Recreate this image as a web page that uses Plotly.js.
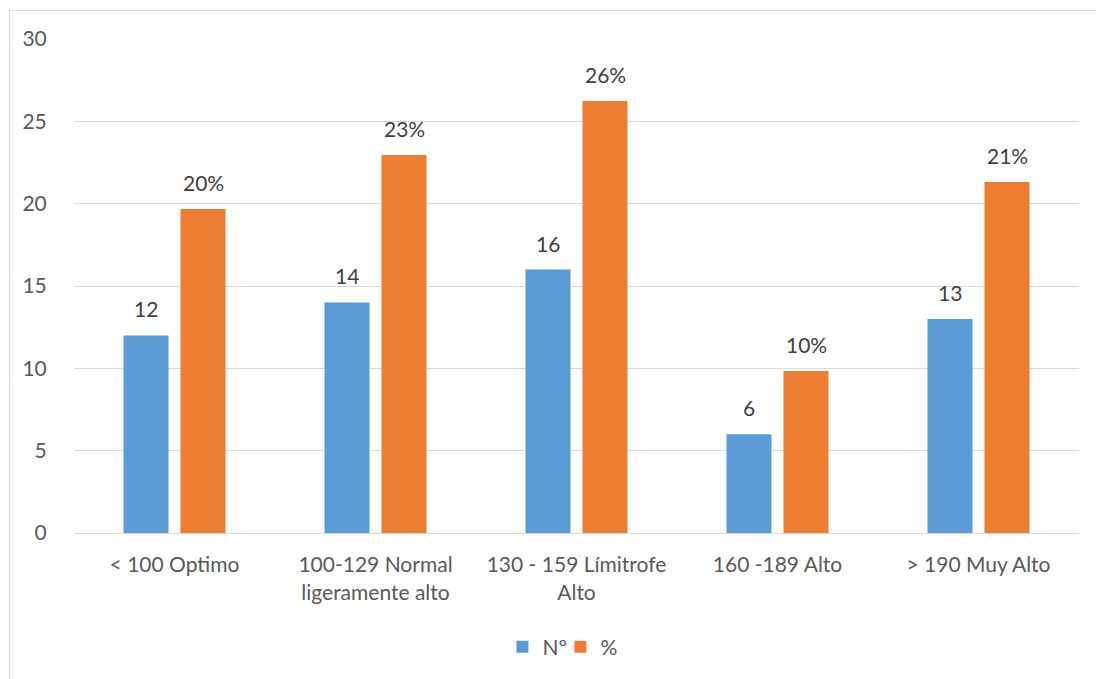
<!DOCTYPE html>
<html>
<head>
<meta charset="utf-8">
<script src="https://cdn.plot.ly/plotly-3.0.1.min.js"></script>
<style>
  html, body { margin: 0; padding: 0; background: #ffffff; overflow: hidden; }
  #frame { position: absolute; left: 9px; top: 10px; width: 1100px; height: 700px; border: 1px solid #d9d9d9; box-sizing: border-box; pointer-events: none; }
  #chart { position: absolute; left: 0; top: 0; width: 1096px; height: 679px; }
</style>
</head>
<body>
<div id="chart"></div>
<div id="frame"></div>
<script>
const categories = ["< 100 Optimo", "100-129 Normal<br>ligeramente alto", "130 - 159 Límitrofe<br>Alto", "160 -189 Alto", "> 190 Muy Alto"];
const countValues = [12, 14, 16, 6, 13];
const pctValues = [19.67, 22.95, 26.23, 9.84, 21.31];
const yTicks = [0, 5, 10, 15, 20, 25, 30];

const FONT = "Lato, 'Open Sans', sans-serif";
const labelFont = { family: FONT, size: 21, color: "#404040" };

const traces = [
  { type: "bar", name: "Nº", x: categories, y: countValues, marker: { color: "#5B9BD5" } },
  { type: "bar", name: "%", x: categories, y: pctValues, marker: { color: "#ED7D31" } }
];

const annotations = [];
categories.forEach((c, i) => {
  annotations.push({ x: c, y: countValues[i], xref: "x", yref: "y", text: String(countValues[i]),
    showarrow: false, xshift: -28.5, yshift: 12, yanchor: "bottom", font: labelFont });
  annotations.push({ x: c, y: pctValues[i], xref: "x", yref: "y", text: Math.round(pctValues[i]) + "%",
    showarrow: false, xshift: 28.5, yshift: 12, yanchor: "bottom", font: labelFont });
});

const layout = {
  width: 1096, height: 679,
  margin: { l: 74, r: 17, t: 39, b: 146 },
  paper_bgcolor: "rgba(0,0,0,0)", plot_bgcolor: "#ffffff",
  font: { family: FONT, size: 21, color: "#595959" },
  barmode: "group", bargap: 0.433, bargroupgap: 0.21,
  showlegend: true,
  legend: { orientation: "h", x: 0.484, xanchor: "center", y: -0.231, yanchor: "middle",
    font: { size: 21, color: "#595959" }, traceorder: "normal", itemwidth: 30, entrywidth: 13, entrywidthmode: "pixels" },
  annotations: annotations,
  xaxis: {
    showgrid: false, zeroline: false, showline: true, linecolor: "#d9d9d9", linewidth: 1,
    ticks: "outside", ticklen: 13, tickcolor: "rgba(0,0,0,0)", tickfont: { size: 21, color: "#595959" }
  },
  yaxis: {
    range: [0, 30], tickvals: yTicks, showgrid: true, gridcolor: "#d9d9d9", gridwidth: 1,
    zeroline: false, showline: false,
    ticks: "outside", ticklen: 22, tickcolor: "rgba(0,0,0,0)", tickfont: { size: 21, color: "#595959" }
  }
};

Plotly.newPlot("chart", traces, layout, { displayModeBar: false, staticPlot: true });
</script>
</body>
</html>
